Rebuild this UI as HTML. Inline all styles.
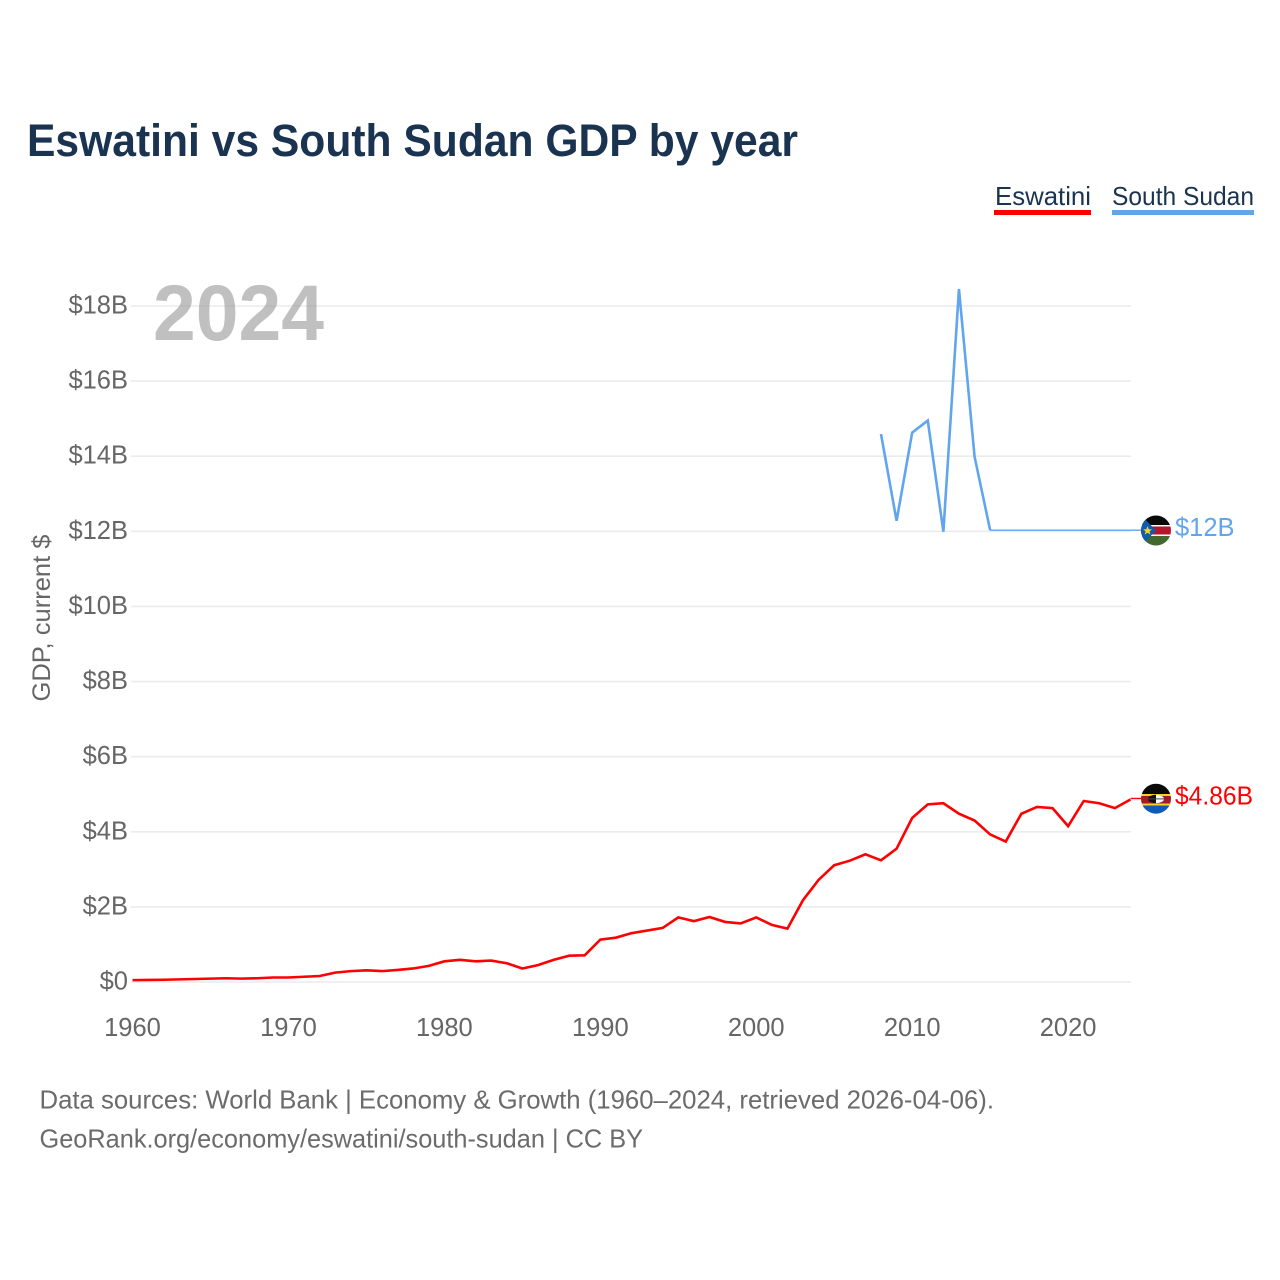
<!DOCTYPE html>
<html lang="en">
<head>
<meta charset="utf-8">
<title>Eswatini vs South Sudan GDP by year</title>
<style>
html,body{margin:0;padding:0;background:#fff}
svg{display:block}
text{font-family:"Liberation Sans",sans-serif}
</style>
</head>
<body>
<svg id="chart" xmlns="http://www.w3.org/2000/svg" width="1280" height="1280" viewBox="0 0 1280 1280">
<rect width="1280" height="1280" fill="#fff"/>
<defs>
<clipPath id="clip-ss"><circle cx="1156" cy="530.5" r="15"/></clipPath>
<clipPath id="clip-sz"><circle cx="1156" cy="798.7" r="15"/></clipPath>
</defs>
<text x="27" y="156" font-size="45" font-weight="700" fill="#1a3350" textLength="771" lengthAdjust="spacingAndGlyphs">Eswatini vs South Sudan GDP by year</text>
<text x="995" y="205" font-size="26" fill="#1a3350" textLength="96" lengthAdjust="spacingAndGlyphs">Eswatini</text>
<rect x="994" y="210" width="97" height="5" fill="#ff0000"/>
<text x="1112" y="205" font-size="26" fill="#1a3350" textLength="142" lengthAdjust="spacingAndGlyphs">South Sudan</text>
<rect x="1112" y="210" width="142" height="5" fill="#60a5ee"/>
<g id="grid"></g>
<g id="yticks"></g>
<g id="xticks"></g>
<text transform="translate(50,618) rotate(-90)" text-anchor="middle" font-size="25" fill="#666" textLength="167" lengthAdjust="spacingAndGlyphs">GDP, current $</text>
<text x="153" y="340" font-size="79" font-weight="700" fill="#999" fill-opacity="0.62" textLength="171" lengthAdjust="spacingAndGlyphs">2024</text>
<g id="series"></g>
<g clip-path="url(#clip-ss)">
<rect x="1141" y="515" width="30" height="10" fill="#0a0a0a"/>
<rect x="1141" y="525" width="30" height="1.5" fill="#fff"/>
<rect x="1141" y="526.5" width="30" height="8" fill="#b5162e"/>
<rect x="1141" y="534.5" width="30" height="1.5" fill="#fff"/>
<rect x="1141" y="536" width="30" height="10" fill="#43682f"/>
<polygon points="1141,515 1156,530.5 1141,546" fill="#0f5bb0"/>
<polygon points="1147.5,526 1148.8,529.2 1152,529.4 1149.5,531.4 1150.4,534.6 1147.5,532.8 1144.7,534.6 1145.6,531.4 1143.1,529.4 1146.3,529.2" fill="#f5d327"/>
</g>
<g clip-path="url(#clip-sz)">
<rect x="1141" y="783" width="30" height="11" fill="#0a0a0a"/>
<rect x="1141" y="794" width="30" height="2" fill="#f7d21e"/>
<rect x="1141" y="796" width="30" height="7.5" fill="#a9182e"/>
<rect x="1141" y="803.5" width="30" height="2" fill="#f7d21e"/>
<rect x="1141" y="805.5" width="30" height="9" fill="#0f5bb8"/>
<ellipse cx="1156" cy="799" rx="8" ry="4.2" fill="#111"/>
<path d="M1156 794.8 A8 4.2 0 0 1 1156 803.2 Z" fill="#fff"/>
<rect x="1147" y="798.4" width="18" height="1" fill="#444"/>
</g>
<g id="endlabels"></g>
<text x="39.5" y="1108.5" font-size="26" fill="#6b6b6b" textLength="954.5" lengthAdjust="spacingAndGlyphs">Data sources: World Bank | Economy &amp; Growth (1960–2024, retrieved 2026-04-06).</text>
<text x="39.5" y="1147.5" font-size="26" fill="#6b6b6b" textLength="603.5" lengthAdjust="spacingAndGlyphs">GeoRank.org/economy/eswatini/south-sudan | CC BY</text>
</svg>
<script>
const yearsEswatini = [1960,1961,1962,1963,1964,1965,1966,1967,1968,1969,1970,1971,1972,1973,1974,1975,1976,1977,1978,1979,1980,1981,1982,1983,1984,1985,1986,1987,1988,1989,1990,1991,1992,1993,1994,1995,1996,1997,1998,1999,2000,2001,2002,2003,2004,2005,2006,2007,2008,2009,2010,2011,2012,2013,2014,2015,2016,2017,2018,2019,2020,2021,2022,2023,2024];
const gdpEswatini = [0.05,0.055,0.06,0.07,0.08,0.09,0.1,0.09,0.1,0.12,0.12,0.14,0.16,0.25,0.29,0.31,0.29,0.32,0.36,0.43,0.55,0.59,0.55,0.57,0.5,0.36,0.45,0.59,0.7,0.71,1.13,1.18,1.3,1.37,1.44,1.72,1.62,1.73,1.6,1.56,1.72,1.52,1.42,2.18,2.72,3.11,3.23,3.4,3.24,3.55,4.37,4.73,4.76,4.48,4.3,3.93,3.74,4.48,4.66,4.63,4.15,4.82,4.76,4.63,4.86];
const yearsSouthSudan = [2008,2009,2010,2011,2012,2013,2014,2015];
const gdpSouthSudan = [14.59,12.28,14.63,14.95,11.99,18.45,13.99,12.03];
const yearsSouthSudanFlat = [2015,2024];
const gdpSouthSudanFlat = [12.03,12.03];
const yTickValues = [0,2,4,6,8,10,12,14,16,18];
const yTickLabels = ['$0','$2B','$4B','$6B','$8B','$10B','$12B','$14B','$16B','$18B'];
const xTickValues = [1960,1970,1980,1990,2000,2010,2020];
const endLabelEswatini = '$4.86B';
const endLabelSouthSudan = '$12B';

const NS = 'http://www.w3.org/2000/svg';
const xScale = function (year) { return 132.5 + (year - 1960) * (1130.5 - 132.5) / (2024 - 1960); };
const yScale = function (v) { return 982 - v * (982 - 306) / 18; };
function mk(tag, parent, attrs, txt) {
  const el = document.createElementNS(NS, tag);
  for (const k in attrs) el.setAttribute(k, attrs[k]);
  if (txt !== undefined) el.textContent = txt;
  parent.appendChild(el);
  return el;
}
const gridG = document.getElementById('grid');
const yG = document.getElementById('yticks');
const xG = document.getElementById('xticks');
const seriesG = document.getElementById('series');
const endG = document.getElementById('endlabels');

yTickValues.forEach(function (v, i) {
  const line = mk('line', gridG, {x1: 131, x2: 1131, y1: yScale(v), y2: yScale(v), stroke: '#ececec', 'stroke-width': 1.6});
  
  
  const t = mk('text', yG, {x: 128, y: yScale(v) + 7.5, 'text-anchor': 'end', 'font-size': 25.5, fill: '#666'}, yTickLabels[i]);
  
  
});
xTickValues.forEach(function (yr) {
  const t = mk('text', xG, {x: xScale(yr), y: 1036, 'text-anchor': 'middle', 'font-size': 25.5, fill: '#666'}, String(yr));
  
  
});
function linePath(xs, ys) {
  return xs.map(function (yr, i) { return (i ? 'L' : 'M') + xScale(yr).toFixed(2) + ' ' + yScale(ys[i]).toFixed(2); }).join(' ');
}
const lineSS = mk('path', seriesG, {d: linePath(yearsSouthSudan, gdpSouthSudan), fill: 'none', stroke: '#60a5ee', 'stroke-width': 2.6, 'stroke-linejoin': 'miter'});


const lineSSFlat = mk('path', seriesG, {d: linePath(yearsSouthSudanFlat, gdpSouthSudanFlat), fill: 'none', stroke: '#60a5ee', 'stroke-width': 1.4});


const lineSZ = mk('path', seriesG, {d: linePath(yearsEswatini, gdpEswatini), fill: 'none', stroke: '#ff0000', 'stroke-width': 2.6, 'stroke-linejoin': 'miter'});



const lastSS = gdpSouthSudanFlat[gdpSouthSudanFlat.length - 1];
const lastSZ = gdpEswatini[gdpEswatini.length - 1];
const connSS = mk('line', endG, {x1: xScale(2024), x2: 1141, y1: yScale(lastSS), y2: yScale(lastSS), stroke: '#60a5ee', 'stroke-width': 1.4});


const connSZ = mk('line', endG, {x1: xScale(2024), x2: 1141, y1: yScale(lastSZ) - 1, y2: yScale(lastSZ) - 1, stroke: '#ff0000', 'stroke-width': 1.4});


const lblSS = mk('text', endG, {x: 1175, y: yScale(lastSS) + 6, 'font-size': 25.5, fill: '#60a5ee'}, endLabelSouthSudan);


const lblSZ = mk('text', endG, {x: 1175, y: yScale(lastSZ) + 5, 'font-size': 25.5, fill: '#ff0000', textLength: 78, lengthAdjust: 'spacingAndGlyphs'}, endLabelEswatini);


</script>
</body>
</html>
